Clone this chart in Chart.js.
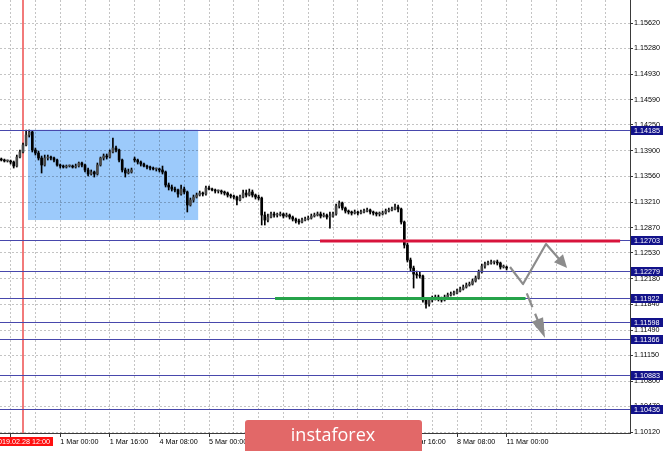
<!DOCTYPE html>
<html><head><meta charset="utf-8">
<script src="https://cdn.jsdelivr.net/npm/chart.js@4"></script>
<style>html,body{margin:0;padding:0;background:#fff;overflow:hidden}canvas{display:block}</style>
</head><body>
<canvas id="c" width="665" height="451"></canvas>
<script>
// ---- DATA (EURUSD H1, bar index 0 = 28 Feb 05:00, weekends skipped) ----
const opens = [
1.13791,1.13778,1.13765,1.13765,1.13751,1.13697,1.13818,1.13886,1.13980,1.14114,
1.14155,1.13913,1.13872,1.13805,1.13711,1.13805,1.13818,1.13805,1.13778,1.13711,
1.13697,1.13684,1.13697,1.13697,1.13684,1.13697,1.13738,1.13711,1.13644,1.13590,
1.13617,1.13590,1.13711,1.13805,1.13832,1.13818,1.13886,1.13939,1.13913,1.13778,
1.13644,1.13603,1.13617,1.13791,1.13778,1.13751,1.13724,1.13697,1.13684,1.13670,
1.13657,1.13657,1.13644,1.13617,1.13442,1.13415,1.13388,1.13375,1.13321,1.13388,
1.13348,1.13173,1.13240,1.13280,1.13307,1.13334,1.13321,1.13401,1.13388,1.13375,
1.13361,1.13361,1.13348,1.13334,1.13307,1.13294,1.13280,1.13240,1.13280,1.13334,
1.13307,1.13348,1.13307,1.13280,1.13267,1.13038,1.12971,1.13011,1.13052,1.13038,
1.13038,1.13052,1.13025,1.13038,1.13011,1.12984,1.12958,1.12944,1.12971,1.12984,
1.12998,1.13025,1.13038,1.13052,1.13025,1.13038,1.13011,1.13025,1.13052,1.13159,
1.13200,1.13132,1.13092,1.13079,1.13065,1.13079,1.13065,1.13079,1.13092,1.13106,
1.13079,1.13065,1.13052,1.13052,1.13065,1.13092,1.13106,1.13119,1.13146,1.13119,
1.12944,1.12635,1.12433,1.12325,1.12245,1.12231,1.12218,1.11895,1.11841,1.11895,
1.11922,1.11935,1.11908,1.11895,1.11935,1.11962,1.11976,1.11989,1.12016,1.12043,
1.12070,1.12097,1.12110,1.12151,1.12191,1.12272,1.12352,1.12379,1.12393,1.12406,
1.12406,1.12393,1.12339,1.12339];
const highs = [
1.13805,1.13791,1.13778,1.13778,1.13765,1.13845,1.13913,1.14007,1.14182,1.14182,
1.14168,1.13939,1.13899,1.13832,1.13845,1.13845,1.13832,1.13818,1.13791,1.13724,
1.13711,1.13711,1.13711,1.13711,1.13724,1.13751,1.13751,1.13724,1.13670,1.13644,
1.13630,1.13738,1.13818,1.13859,1.13859,1.13913,1.14074,1.13966,1.13926,1.13791,
1.13670,1.13657,1.13670,1.13818,1.13791,1.13765,1.13738,1.13711,1.13697,1.13684,
1.13670,1.13670,1.13697,1.13630,1.13469,1.13442,1.13415,1.13388,1.13442,1.13415,
1.13361,1.13267,1.13307,1.13334,1.13361,1.13348,1.13428,1.13428,1.13401,1.13388,
1.13375,1.13375,1.13361,1.13348,1.13321,1.13307,1.13294,1.13307,1.13375,1.13375,
1.13388,1.13375,1.13321,1.13307,1.13280,1.13079,1.13052,1.13079,1.13079,1.13065,
1.13079,1.13065,1.13065,1.13052,1.13025,1.12998,1.12984,1.12998,1.13011,1.13025,
1.13052,1.13065,1.13079,1.13079,1.13065,1.13052,1.13079,1.13079,1.13186,1.13227,
1.13213,1.13146,1.13106,1.13092,1.13106,1.13092,1.13106,1.13119,1.13132,1.13119,
1.13092,1.13079,1.13079,1.13092,1.13119,1.13132,1.13146,1.13186,1.13173,1.13132,
1.12958,1.12662,1.12460,1.12352,1.12285,1.12272,1.12231,1.11922,1.11922,1.11949,
1.11962,1.11962,1.11935,1.11962,1.11989,1.12003,1.12016,1.12043,1.12070,1.12097,
1.12124,1.12137,1.12177,1.12218,1.12299,1.12379,1.12406,1.12420,1.12433,1.12420,
1.12433,1.12406,1.12366,1.12352];
const lows = [
1.13765,1.13751,1.13751,1.13724,1.13670,1.13684,1.13805,1.13872,1.13966,1.14087,
1.13886,1.13845,1.13778,1.13603,1.13697,1.13778,1.13778,1.13751,1.13697,1.13670,
1.13670,1.13670,1.13684,1.13670,1.13670,1.13684,1.13684,1.13617,1.13563,1.13576,
1.13549,1.13576,1.13697,1.13778,1.13791,1.13805,1.13872,1.13886,1.13751,1.13617,
1.13549,1.13590,1.13603,1.13751,1.13724,1.13697,1.13684,1.13657,1.13644,1.13644,
1.13630,1.13617,1.13590,1.13415,1.13375,1.13361,1.13348,1.13280,1.13307,1.13321,
1.13079,1.13159,1.13213,1.13267,1.13294,1.13294,1.13307,1.13375,1.13361,1.13334,
1.13334,1.13321,1.13307,1.13280,1.13267,1.13253,1.13173,1.13227,1.13267,1.13280,
1.13294,1.13280,1.13253,1.13240,1.12904,1.12904,1.12944,1.12998,1.13011,1.13011,
1.13025,1.12998,1.13011,1.12984,1.12958,1.12931,1.12917,1.12931,1.12958,1.12971,
1.12984,1.13011,1.13025,1.12998,1.13011,1.12984,1.12863,1.13011,1.13038,1.13132,
1.13106,1.13065,1.13052,1.13038,1.13052,1.13038,1.13052,1.13065,1.13079,1.13052,
1.13038,1.13025,1.13025,1.13038,1.13052,1.13079,1.13092,1.13106,1.13079,1.12917,
1.12594,1.12406,1.12285,1.12056,1.12191,1.12191,1.11868,1.11787,1.11814,1.11868,
1.11895,1.11882,1.11868,1.11882,1.11922,1.11949,1.11962,1.11976,1.12003,1.12030,
1.12056,1.12083,1.12097,1.12137,1.12177,1.12258,1.12325,1.12366,1.12379,1.12379,
1.12366,1.12312,1.12325,1.12299];
const closes = [
1.13778,1.13765,1.13765,1.13751,1.13697,1.13818,1.13886,1.13980,1.14114,1.14155,
1.13913,1.13872,1.13805,1.13711,1.13805,1.13818,1.13805,1.13778,1.13711,1.13697,
1.13684,1.13697,1.13697,1.13684,1.13697,1.13738,1.13711,1.13644,1.13590,1.13617,
1.13590,1.13711,1.13805,1.13832,1.13818,1.13886,1.13939,1.13913,1.13778,1.13644,
1.13603,1.13617,1.13644,1.13778,1.13751,1.13724,1.13697,1.13684,1.13670,1.13657,
1.13657,1.13644,1.13617,1.13442,1.13415,1.13388,1.13375,1.13321,1.13388,1.13348,
1.13173,1.13240,1.13280,1.13307,1.13334,1.13321,1.13401,1.13388,1.13375,1.13361,
1.13361,1.13348,1.13334,1.13307,1.13294,1.13280,1.13240,1.13280,1.13334,1.13307,
1.13348,1.13307,1.13280,1.13267,1.13038,1.12971,1.13011,1.13052,1.13038,1.13038,
1.13052,1.13025,1.13038,1.13011,1.12984,1.12958,1.12944,1.12971,1.12984,1.12998,
1.13025,1.13038,1.13052,1.13025,1.13038,1.13011,1.13025,1.13052,1.13159,1.13200,
1.13132,1.13092,1.13079,1.13065,1.13079,1.13065,1.13079,1.13092,1.13106,1.13079,
1.13065,1.13052,1.13052,1.13065,1.13092,1.13106,1.13119,1.13146,1.13119,1.12944,
1.12635,1.12433,1.12325,1.12245,1.12231,1.12218,1.11895,1.11841,1.11895,1.11922,
1.11935,1.11908,1.11895,1.11935,1.11962,1.11976,1.11989,1.12016,1.12043,1.12070,
1.12097,1.12110,1.12151,1.12191,1.12272,1.12352,1.12379,1.12393,1.12406,1.12406,
1.12393,1.12339,1.12339,1.12325];

const yTickValues = [1.10120,1.10470,1.10800,1.11150,1.11490,1.11840,1.12180,1.12530,1.12870,
  1.13210,1.13560,1.13900,1.14250,1.14590,1.14930,1.15280,1.15620];
const xTickBars   = [19,35,51,67,83,99,115,131,147,163];
const xTickLabels = ["1 Mar 00:00","1 Mar 16:00","4 Mar 08:00","5 Mar 00:00","5 Mar 16:00",
  "6 Mar 08:00","7 Mar 00:00","7 Mar 16:00","8 Mar 08:00","11 Mar 00:00"];
const levels = [1.14185,1.12703,1.12279,1.11922,1.11598,1.11366,1.10883,1.10436];
const markerBar = 7, markerLabel = "2019.02.28 12:00";
const zoneBars = [8.6, 63.5], zonePrices = [1.12971, 1.14185];
const resistBars = [102.8, 199.6], resistPrice = 1.12690;
const supportBars = [88.3, 169.1], supportPrice = 1.11915;
const upPathBars = [164.1, 168.3, 175.7, 182.5];
const upPathPrices = [1.12339, 1.12110, 1.12648, 1.12325];
const downPathBars = [169.5, 175.4];
const downPathPrices = [1.11985, 1.11384];

// ---- CHART ----
Chart.defaults.font.family = "'Liberation Sans', Arial, sans-serif";
Chart.defaults.font.size = 7.2;
Chart.defaults.color = '#000';

const bodies = closes.map((c,i)=>({x:i, y:[opens[i], c]}));
const wicks = closes.map((c,i)=>({x:i, y:[lows[i], highs[i]]}));
const labelled = new Set([3, ...xTickBars]);

function headAt(ctx, x0, y0, x1, y1, len, hw) {
  const a = Math.atan2(y1-y0, x1-x0);
  ctx.beginPath();
  ctx.moveTo(x1, y1);
  ctx.lineTo(x1 - len*Math.cos(a) + hw*Math.sin(a), y1 - len*Math.sin(a) - hw*Math.cos(a));
  ctx.lineTo(x1 - len*Math.cos(a) - hw*Math.sin(a), y1 - len*Math.sin(a) + hw*Math.cos(a));
  ctx.closePath(); ctx.fill();
}

const overlay = {
  id: 'overlay',
  beforeDraw(chart) {
    const {ctx, scales:{x, y}} = chart;
    ctx.save();
    ctx.fillStyle = '#fff'; ctx.fillRect(0,0,chart.width,chart.height);
    const x0 = x.getPixelForValue(zoneBars[0]), x1 = x.getPixelForValue(zoneBars[1]);
    const y0 = y.getPixelForValue(zonePrices[1]), y1 = y.getPixelForValue(zonePrices[0]);
    ctx.fillStyle = '#9ccafb';
    ctx.fillRect(x0, y0, x1-x0, y1-y0);
    ctx.restore();
  },
  beforeDatasetsDraw(chart) {
    const {ctx, chartArea:a, scales:{x}} = chart;
    const mx = x.getPixelForValue(markerBar);
    ctx.save();
    ctx.strokeStyle = '#f27a7a'; ctx.lineWidth = 2;
    ctx.beginPath(); ctx.moveTo(mx, a.top); ctx.lineTo(mx, a.bottom); ctx.stroke();
    ctx.restore();
  },
  afterDatasetsDraw(chart) {
    const {ctx, chartArea:a, scales:{x, y}} = chart;
    ctx.save();
    ctx.beginPath(); ctx.rect(a.left, a.top, a.right-a.left, a.bottom-a.top); ctx.clip();
    ctx.strokeStyle = '#4848ac'; ctx.lineWidth = 1;
    levels.forEach(v => {
      const py = Math.round(y.getPixelForValue(v)) + 0.5;
      ctx.beginPath(); ctx.moveTo(a.left, py); ctx.lineTo(a.right, py); ctx.stroke();
    });
    ctx.lineWidth = 3;
    ctx.strokeStyle = '#d8143c';
    let py = y.getPixelForValue(resistPrice);
    ctx.beginPath(); ctx.moveTo(x.getPixelForValue(resistBars[0]), py); ctx.lineTo(x.getPixelForValue(resistBars[1]), py); ctx.stroke();
    ctx.strokeStyle = '#26a34a';
    py = y.getPixelForValue(supportPrice);
    ctx.beginPath(); ctx.moveTo(x.getPixelForValue(supportBars[0]), py); ctx.lineTo(x.getPixelForValue(supportBars[1]), py); ctx.stroke();
    // projection arrows
    ctx.strokeStyle = '#8c8c8c'; ctx.fillStyle = '#8c8c8c'; ctx.lineWidth = 2.2;
    ctx.lineJoin = 'round';
    const pts = upPathBars.map((b,i)=>[x.getPixelForValue(b), y.getPixelForValue(upPathPrices[i])]);
    const n = pts.length;
    const [ax, ay] = pts[n-2], [bx, by] = pts[n-1];
    const ang = Math.atan2(by-ay, bx-ax);
    ctx.beginPath(); ctx.moveTo(pts[0][0], pts[0][1]);
    for (let i=1;i<n-1;i++) ctx.lineTo(pts[i][0], pts[i][1]);
    ctx.lineTo(bx - 10*Math.cos(ang), by - 10*Math.sin(ang));
    ctx.stroke();
    headAt(ctx, ax, ay, bx, by, 13, 6);
    const d0 = [x.getPixelForValue(downPathBars[0]), y.getPixelForValue(downPathPrices[0])];
    const d1 = [x.getPixelForValue(downPathBars[1]), y.getPixelForValue(downPathPrices[1])];
    const dang = Math.atan2(d1[1]-d0[1], d1[0]-d0[0]);
    ctx.setLineDash([15,7]);
    ctx.beginPath(); ctx.moveTo(d0[0], d0[1]);
    ctx.lineTo(d1[0] - 16*Math.cos(dang), d1[1] - 16*Math.sin(dang)); ctx.stroke();
    ctx.setLineDash([]);
    headAt(ctx, d0[0], d0[1], d1[0], d1[1], 20, 6);
    ctx.beginPath(); ctx.arc(d1[0] - 15*Math.cos(dang), d1[1] - 15*Math.sin(dang), 4.5, 0, Math.PI*2); ctx.fill();
    ctx.restore();
  },
  afterDraw(chart) {
    const {ctx, chartArea:a, scales:{x, y}} = chart;
    ctx.save();
    ctx.font = "7.2px 'Liberation Sans', Arial, sans-serif";
    ctx.textBaseline = 'middle';
    levels.forEach(v => {
      const py = Math.round(y.getPixelForValue(v)) + 0.5;
      ctx.fillStyle = '#12128a';
      ctx.fillRect(a.right + 1, py - 4.5, 32, 9);
      ctx.fillStyle = '#fff'; ctx.textAlign = 'left';
      ctx.fillText(v.toFixed(5), a.right + 4, py + 0.5);
    });
    // time marker label
    const mx = x.getPixelForValue(markerBar);
    ctx.fillStyle = '#ff1010';
    ctx.fillRect(mx - 32, a.bottom + 4, 62, 9);
    ctx.fillStyle = '#fff'; ctx.textAlign = 'center';
    ctx.fillText(markerLabel, mx - 1, a.bottom + 8.8);
    // logo
    ctx.fillStyle = '#e26868';
    ctx.beginPath(); ctx.roundRect(245, 420, 177, 40, 3); ctx.fill();
    ctx.fillStyle = '#fff';
    ctx.font = "18px 'Open Sans', 'Noto Sans', sans-serif";
    ctx.textAlign = 'center'; ctx.textBaseline = 'alphabetic';
    ctx.fillText('instaforex', 333, 441);
    ctx.restore();
  }
};

new Chart(document.getElementById('c'), {
  type: 'bar',
  data: {
    datasets: [
      { label: 'body', data: bodies, barThickness: 2, minBarLength: 1, grouped: false,
        backgroundColor: ctx => closes[ctx.dataIndex] >= opens[ctx.dataIndex] ? '#4a4a4a' : '#000',
        borderWidth: 0 },
      { label: 'wick', data: wicks, barThickness: 1, grouped: false,
        backgroundColor: '#000', borderWidth: 0 }
    ]
  },
  options: {
    responsive: false, animation: false, devicePixelRatio: 1,
    layout: { padding: 0 },
    plugins: { legend: { display: false }, tooltip: { enabled: false } },
    scales: {
      x: {
        type: 'linear', position: 'bottom', min: -0.42, max: 202.8, offset: false,
        afterBuildTicks: s => { const t = []; for (let b = 3; b <= 200; b += 8) t.push({value: b}); s.ticks = t; },
        afterFit: s => { s.height = 18; s.paddingLeft = 0; s.paddingRight = 0; },
        ticks: { align: 'start', maxRotation: 0, autoSkip: false, padding: 1,
          callback: v => { const k = xTickBars.indexOf(v); return k >= 0 ? xTickLabels[k] : ''; } },
        grid: { offset: false, color: 'rgba(0,0,0,0.23)', lineWidth: 1, tickLength: 4,
          tickColor: c => (c.tick && labelled.has(c.tick.value)) ? '#333' : 'rgba(0,0,0,0)' },
        border: { display: true, color: '#3a3a3a', width: 1, dash: [2,2] }
      },
      y: {
        type: 'linear', position: 'right', min: 1.10107, max: 1.15930,
        afterBuildTicks: s => { s.ticks = yTickValues.map(v => ({value: v})); },
        afterFit: s => { s.width = 35; s.paddingTop = 0; s.paddingBottom = 0; },
        ticks: { padding: 1, crossAlign: 'near', callback: v => v.toFixed(5) },
        grid: { color: 'rgba(0,0,0,0.23)', lineWidth: 1, tickLength: 3, tickColor: '#333' },
        border: { display: true, color: '#3a3a3a', width: 1, dash: [2,2] }
      }
    }
  },
  plugins: [overlay]
});
</script>
</body></html>
